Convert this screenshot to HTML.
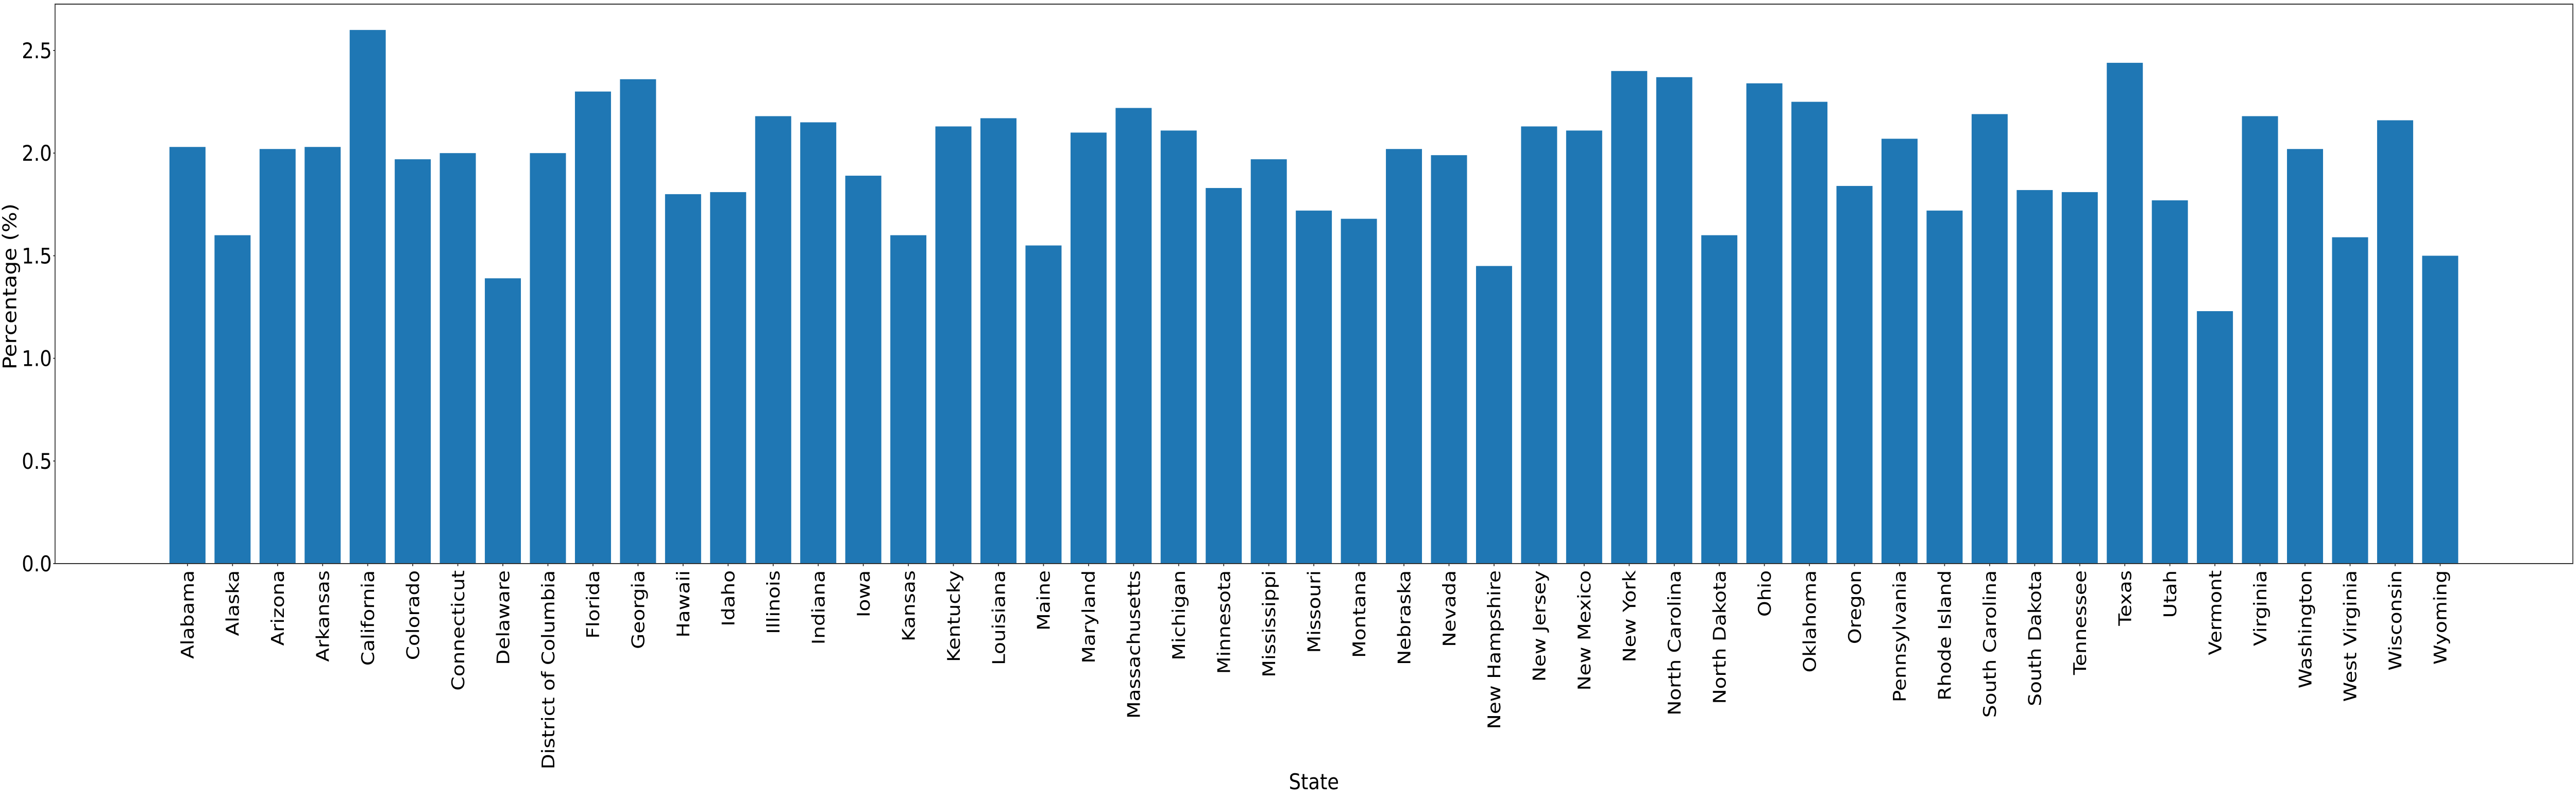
<!DOCTYPE html>
<html><head><meta charset="utf-8"><style>
html,body{margin:0;padding:0;background:#fff;width:100%;height:100%;overflow:hidden;}
svg{display:block;position:absolute;left:0;top:0;width:100vw;height:100vh;font-family:"DejaVu Sans","Liberation Sans",sans-serif;}
</style></head><body>
<svg id="chart" viewBox="0 0 5709 1549" preserveAspectRatio="none" overflow="hidden" xmlns="http://www.w3.org/2000/svg">
<g id="bars"></g>
<g id="xticks"></g>
<g id="yticks"></g>
<rect x="122" y="8" width="5580" height="1086" fill="none" stroke="#333" stroke-width="2"/>
<text x="0" y="0" transform="translate(36,556) rotate(-90)" text-anchor="middle" font-size="42" fill="#000">Percentage (%)</text>
<text x="2912" y="1532" text-anchor="middle" font-size="42" fill="#000">State</text>
</svg>
<script>
const states = ["Alabama","Alaska","Arizona","Arkansas","California","Colorado","Connecticut","Delaware","District of Columbia","Florida","Georgia","Hawaii","Idaho","Illinois","Indiana","Iowa","Kansas","Kentucky","Louisiana","Maine","Maryland","Massachusetts","Michigan","Minnesota","Mississippi","Missouri","Montana","Nebraska","Nevada","New Hampshire","New Jersey","New Mexico","New York","North Carolina","North Dakota","Ohio","Oklahoma","Oregon","Pennsylvania","Rhode Island","South Carolina","South Dakota","Tennessee","Texas","Utah","Vermont","Virginia","Washington","West Virginia","Wisconsin","Wyoming"];
const percentages = [2.03,1.60,2.02,2.03,2.60,1.97,2.00,1.39,2.00,2.30,2.36,1.80,1.81,2.18,2.15,1.89,1.60,2.13,2.17,1.55,2.10,2.22,2.11,1.83,1.97,1.72,1.68,2.02,1.99,1.45,2.13,2.11,2.40,2.37,1.60,2.34,2.25,1.84,2.07,1.72,2.19,1.82,1.81,2.44,1.77,1.23,2.18,2.02,1.59,2.16,1.50];
const yTicks = [0,0.5,1.0,1.5,2.0,2.5];
const yTickLabels = ["0.0","0.5","1.0","1.5","2.0","2.5"];

const NS="http://www.w3.org/2000/svg";
const step=99.85, x0=415.5, barW=79.9;
function xs(i){return x0+i*step;}
function ys(v){return 1094-v*398.4;}
const bars=document.getElementById('bars'), xt=document.getElementById('xticks'), yt=document.getElementById('yticks');
states.forEach((s,i)=>{
  const r=document.createElementNS(NS,'rect');
  
  
  const top=ys(percentages[i]);
  r.setAttribute('x',xs(i)-barW/2);r.setAttribute('y',top);
  r.setAttribute('width',barW);r.setAttribute('height',ys(0)-top);
  r.setAttribute('fill','#1f77b4');
  bars.appendChild(r);
  const l=document.createElementNS(NS,'line');
  
  
  l.setAttribute('x1',xs(i));l.setAttribute('x2',xs(i));l.setAttribute('y1',1094);l.setAttribute('y2',1099);
  l.setAttribute('stroke','#333');l.setAttribute('stroke-width','2');
  xt.appendChild(l);
  const t=document.createElementNS(NS,'text');
  
  
  t.setAttribute('transform','translate('+(xs(i)+14)+',1107) rotate(-90)');
  t.setAttribute('text-anchor','end');t.setAttribute('font-size','39');
  t.textContent=s;
  xt.appendChild(t);
});
yTicks.forEach((v,i)=>{
  const l=document.createElementNS(NS,'line');
  
  
  l.setAttribute('x1',118);l.setAttribute('x2',122);l.setAttribute('y1',ys(v));l.setAttribute('y2',ys(v));
  l.setAttribute('stroke','#333');l.setAttribute('stroke-width','2');
  yt.appendChild(l);
  const t=document.createElementNS(NS,'text');
  
  
  t.setAttribute('x',115);t.setAttribute('y',ys(v)+15);
  t.setAttribute('text-anchor','end');t.setAttribute('font-size','42');
  t.textContent=yTickLabels[i];
  yt.appendChild(t);
});
</script>
</body></html>
